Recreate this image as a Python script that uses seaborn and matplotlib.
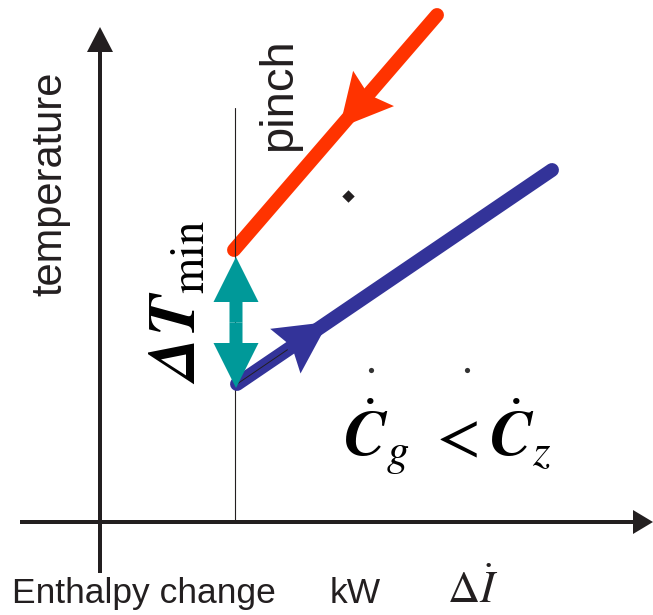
import numpy as np
import seaborn as sns
import matplotlib.pyplot as plt
from matplotlib.patches import Polygon

# ---------- DATA (enthalpy on x, temperature on y, origin where the axes cross)
hot_x = [337, 134]      # hot stream, flows from top right down to the pinch
hot_y = [507, 272]
cold_x = [137, 452]     # cold stream, flows from the pinch up to the right
cold_y = [138, 352]
hot_arrow_at = 0.48     # position of the arrow tip along each stream
cold_arrow_at = 0.29

pinch_x = 135
pinch_top = 414
dtmin_x = 136
dtmin_y = [134, 265]    # bottom and top of the Delta T_min arrow

dot_x = [248]           # stray marks in the original drawing
dot_y = [326]
speck_x = [271, 367]
speck_y = [152, 152]

x_axis = [-80, 553]
y_axis = [-51, 495]

HOT = "#ff3300"
COLD = "#333399"
TEAL = "#009999"
INK = "#231f20"

# ---------- FIGURE
sns.set_theme(style="white")
plt.rcParams["mathtext.fontset"] = "stix"
fig = plt.figure(figsize=(6.53, 6.15), dpi=100)
ax = fig.add_axes([0, 0, 1, 1])
ax.set_xlim(-100, 553)
ax.set_ylim(-93, 522)
ax.axis("off")

# axes with arrow heads
ax.arrow(x_axis[0], 0, x_axis[1] - x_axis[0], 0, width=4, head_width=24,
         head_length=20, length_includes_head=True, color=INK, lw=0, zorder=1)
ax.arrow(0, y_axis[0], 0, y_axis[1] - y_axis[0], width=4, head_width=26,
         head_length=25, length_includes_head=True, color=INK, lw=0, zorder=1)


def stream_head(xs, ys, frac, color, z):
    # swept-back arrow head sitting on a stream line
    p0 = np.array([xs[0], ys[0]], float)
    p1 = np.array([xs[1], ys[1]], float)
    u = (p1 - p0) / np.linalg.norm(p1 - p0)
    n = np.array([-u[1], u[0]])
    tip = p0 + frac * (p1 - p0)
    back = tip - 52 * u
    pts = [tip, back + 27 * n, tip - 44 * u, back - 27 * n]
    ax.add_patch(Polygon(pts, closed=True, color=color, lw=0, zorder=z))


# hot stream
sns.lineplot(x=hot_x, y=hot_y, sort=False, color=HOT, lw=10,
             solid_capstyle="round", ax=ax, zorder=2)
stream_head(hot_x, hot_y, hot_arrow_at, HOT, 2)

# pinch line
ax.plot([pinch_x, pinch_x], [0, pinch_top], color=INK, lw=0.8, zorder=3)

# cold stream
sns.lineplot(x=cold_x, y=cold_y, sort=False, color=COLD, lw=10,
             solid_capstyle="round", ax=ax, zorder=4)
stream_head(cold_x, cold_y, cold_arrow_at, COLD, 4)
ax.plot([cold_x[0], cold_x[0] + 0.16 * (cold_x[1] - cold_x[0])],
        [cold_y[0], cold_y[0] + 0.16 * (cold_y[1] - cold_y[0])],
        color=INK, lw=0.7, zorder=4.5)

# Delta T_min double arrow
mid = (dtmin_y[0] + dtmin_y[1]) / 2
for end in dtmin_y:
    ax.arrow(dtmin_x, mid, 0, end - mid, width=13, head_width=45,
             head_length=45, length_includes_head=True, color=TEAL, lw=0,
             zorder=5)

ax.scatter(dot_x, dot_y, marker="D", s=40, color=INK, lw=0, zorder=6)
ax.scatter(speck_x, speck_y, marker="o", s=14, color="#333333", lw=0, zorder=6)

# ---------- TEXT
sans = ["Liberation Sans", "DejaVu Sans"]
ax.text(-50, 338, "temperature", rotation=90, ha="center", va="center",
        fontsize=30, family=sans, color=INK)
ax.text(179, 427, "pinch", rotation=90, ha="center", va="center",
        fontsize=34, family=sans, color=INK)
ax.text(-88, -81, "Enthalpy change", ha="left", va="baseline",
        fontsize=25.5, family=sans, color=INK)
ax.text(230, -81, "kW", ha="left", va="baseline",
        fontsize=25.5, family=sans, color=INK)
ax.text(347, -81, r"$\Delta\dot{I}$", ha="left", va="baseline",
        fontsize=32, color=INK)
ax.text(76, 220, r"$\mathbfit{\Delta T}_{\rm min}$", rotation=90, ha="center",
        va="center", fontsize=48, color="black")
ax.text(347, 85, r"$\dot{\mathbfit{C}}_{g}\ <\dot{\mathbfit{C}}_{z}$",
        ha="center", va="center", fontsize=46, color="black")

fig.savefig("out.png", dpi=100)
